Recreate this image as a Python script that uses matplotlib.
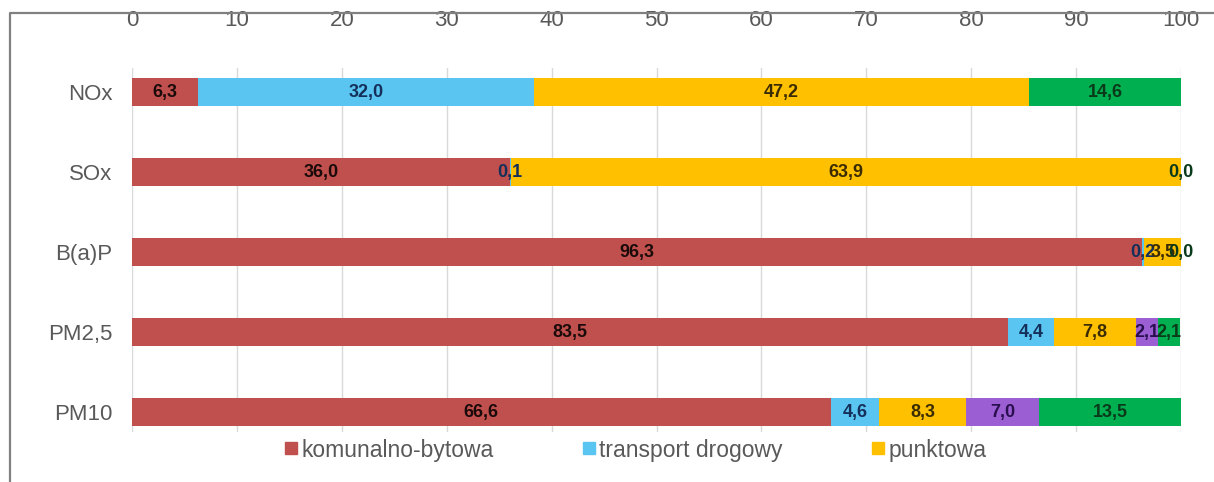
import numpy as np
import matplotlib
matplotlib.use('Agg')
import matplotlib.pyplot as plt
from matplotlib.lines import Line2D

# data
categories = ['NOx', 'SOx', 'B(a)P', 'PM2,5', 'PM10']
series_names = ['komunalno-bytowa', 'transport drogowy', 'punktowa', 'inne', 'pozostale']
komunalno = [6.3, 36.0, 96.3, 83.5, 66.6]
transport = [32.0, 0.1, 0.2, 4.4, 4.6]
punktowa = [47.2, 63.9, 3.5, 7.8, 8.3]
inne = [np.nan, np.nan, np.nan, 2.1, 7.0]
pozostale = [14.6, 0.0, 0.0, 2.1, 13.5]
xticks = [0, 10, 20, 30, 40, 50, 60, 70, 80, 90, 100]

colors = ['#C0504D', '#5BC5F2', '#FFC000', '#9B5FD3', '#00B050']
label_colors = ['#1a0a0a', '#14305a', '#3a2c00', '#2a0f50', '#0a3a1a']
legend_n = 3

W, H = 1214, 482
fig = plt.figure(figsize=(W / 100, H / 100), dpi=100)
ax = fig.add_axes([132 / W, 1 - 432 / H, (1181 - 132) / W, 364 / H])

y = np.arange(len(categories))
left = np.zeros(len(categories))
all_series = [komunalno, transport, punktowa, inne, pozostale]
for vals, c, lc in zip(all_series, colors, label_colors):
    vals = np.array(vals, dtype=float)
    v = np.nan_to_num(vals)
    ax.barh(y, v, left=left, height=0.35, color=c, zorder=3)
    for i, val in enumerate(vals):
        if np.isnan(val):
            continue
        ax.text(left[i] + v[i] / 2, y[i], f'{val:.1f}'.replace('.', ','),
                ha='center', va='center', fontsize=13, fontweight='bold',
                color=lc, family='Liberation Sans', zorder=4)
    left += v

ax.set_xlim(0, 100)
ax.set_ylim(len(categories) - 1 + 0.25, -0.3)
ax.set_xticks(xticks)
ax.xaxis.tick_top()
ax.set_yticks(y)
ax.set_yticklabels(categories)
ax.tick_params(axis='x', length=0, pad=27, labelsize=16, labelcolor='#595959')
ax.tick_params(axis='y', length=0, pad=14, labelsize=16, labelcolor='#595959')
for lab in ax.get_xticklabels() + ax.get_yticklabels():
    lab.set_family('Liberation Sans')
ax.grid(axis='x', color='#d9d9d9', linewidth=1, zorder=0)
ax.grid(axis='y', visible=False)
for s in ax.spines.values():
    s.set_visible(False)

handles = [Line2D([], [], marker='s', linestyle='none', markersize=8,
                  color=colors[k]) for k in range(legend_n)]
leg = fig.legend(handles, series_names[:legend_n], loc='center',
                 bbox_to_anchor=(636 / W, 1 - 450 / H), ncol=legend_n, frameon=False,
                 handlelength=0.5, handletextpad=0.2, columnspacing=3.9,
                 prop={'family': 'Liberation Sans', 'size': 16.5})
for t in leg.get_texts():
    t.set_color('#595959')

# border of the chart area
bx = 10 / W
by = 1 - 13 / H
fig.add_artist(Line2D([bx, bx, 1], [0, by, by], transform=fig.transFigure,
                      color='#808080', linewidth=1.6))

fig.savefig('out.png', dpi=100)
